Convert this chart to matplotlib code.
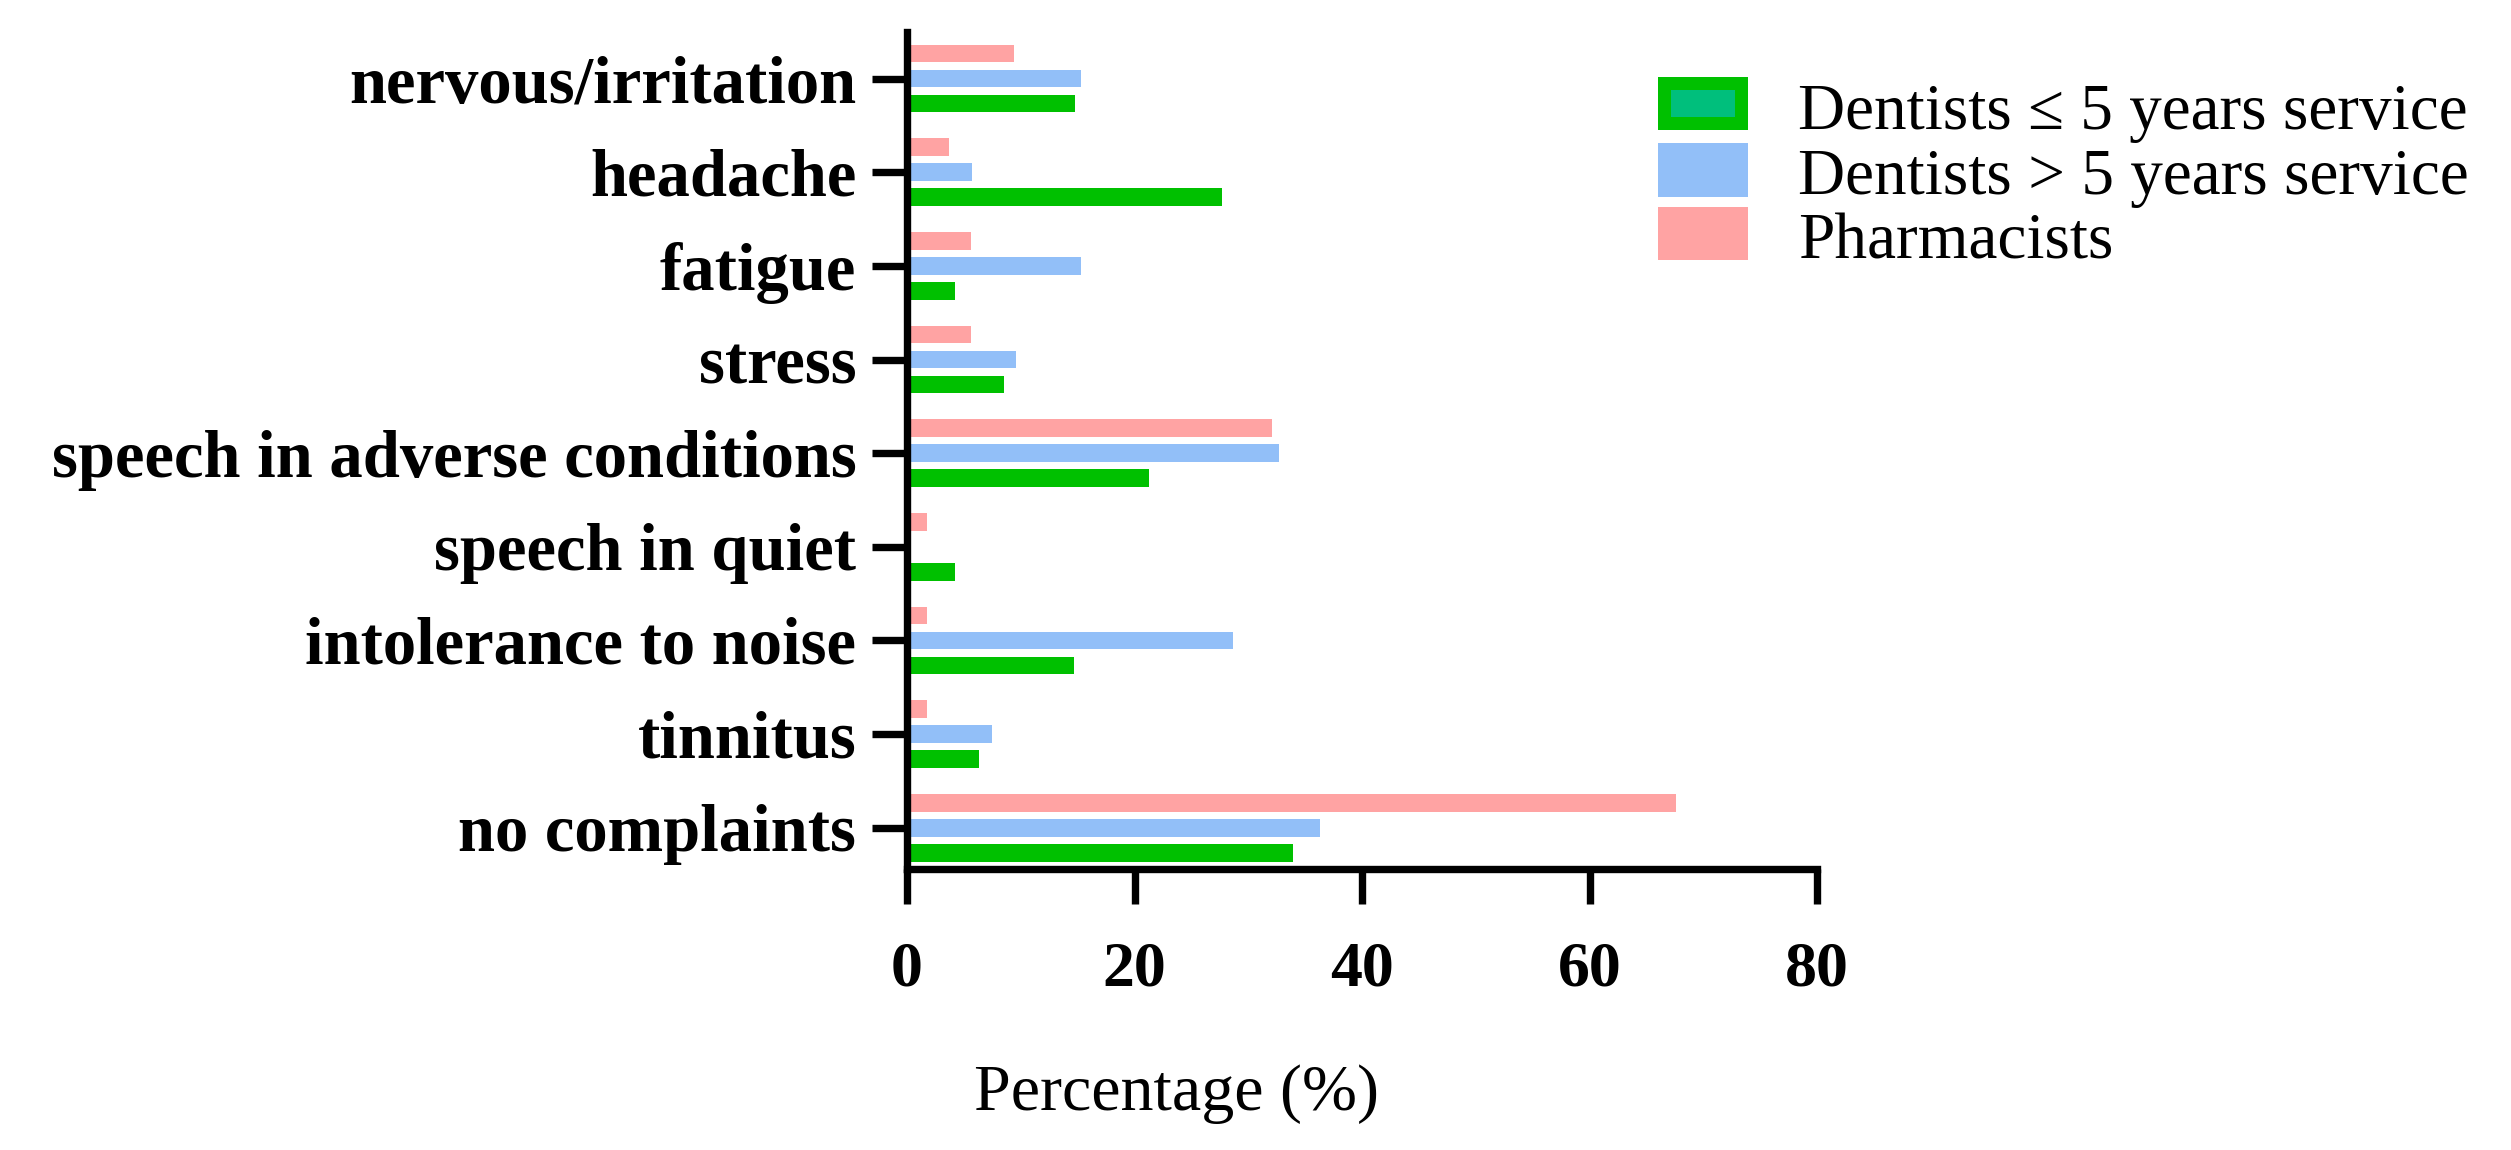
import matplotlib
matplotlib.use("Agg")
import matplotlib.pyplot as plt
from matplotlib.patches import Rectangle
import numpy as np

categories = ["nervous/irritation", "headache", "fatigue", "stress",
              "speech in adverse conditions", "speech in quiet",
              "intolerance to noise", "tinnitus", "no complaints"]
series_names = ["Dentists \u2264 5 years service", "Dentists > 5 years service", "Pharmacists"]
dent_le5 = [14.8, 27.7, 4.2, 8.5, 21.3, 4.2, 14.7, 6.3, 33.9]
dent_gt5 = [15.3, 5.7, 15.3, 9.6, 32.7, 0.0, 28.7, 7.5, 36.3]
pharm = [9.4, 3.7, 5.6, 5.6, 32.1, 1.8, 1.8, 1.8, 67.6]
xticks = [0, 20, 40, 60, 80]

col_green = "#00C000"
col_teal = "#00BF7C"
col_blue = "#92BFF8"
col_pink = "#FFA3A3"

W, H = 2511, 1150
fig = plt.figure(figsize=(W / 100, H / 100), dpi=100)
ax_l, ax_r, ax_t, ax_b = 907, 1817, 31.7, 869
ax = fig.add_axes([ax_l / W, 1 - ax_b / H, (ax_r - ax_l) / W, (ax_b - ax_t) / H])

y = np.arange(len(categories))
off = 0.267
bh = 0.189
ax.barh(y - off, pharm, height=bh, color=col_pink, linewidth=0)
ax.barh(y, dent_gt5, height=bh, color=col_blue, linewidth=0)
ax.barh(y + off, dent_le5, height=bh, color=col_green, linewidth=0)

ax.set_xlim(0, 80)
ax.set_ylim(8.44, -0.5)
ax.set_xticks(xticks)
ax.set_xticklabels([str(t) for t in xticks])
ax.set_yticks(y)
ax.set_yticklabels(categories)

for s in ["top", "right"]:
    ax.spines[s].set_visible(False)
for s in ["left", "bottom"]:
    ax.spines[s].set_linewidth(5.3)
    ax.spines[s].set_color("black")

ax.tick_params(axis="both", which="major", length=25.5, width=5.3, color="black", direction="out")
ax.tick_params(axis="y", pad=11)
ax.tick_params(axis="x", pad=27)
for lab in ax.get_yticklabels():
    lab.set_fontfamily("Liberation Serif")
    lab.set_fontweight("bold")
    lab.set_fontsize(48)
for lab in ax.get_xticklabels():
    lab.set_fontfamily("Liberation Serif")
    lab.set_fontweight("bold")
    lab.set_fontsize(46)

fig.text(1176 / W, 1 - 1110 / H, "Percentage (%)", ha="center", va="baseline",
         fontfamily="Liberation Serif", fontsize=47.5)

# legend (manual)
lw_px = 13
px_w, px_h = 90, 53
patch_left = 1657.7
patch_tops = [76.7, 143.0, 206.7]
baselines = [129.3, 194.0, 258.7]
faces = [col_teal, col_blue, col_pink]
edges = [col_green, col_blue, col_pink]
for name, top, base, fc, ec in zip(series_names, patch_tops, baselines, faces, edges):
    x0 = patch_left + lw_px / 2
    y0 = top + lw_px / 2
    w = px_w - lw_px
    h = px_h - lw_px
    rect = Rectangle((x0 / W, 1 - (y0 + h) / H), w / W, h / H, transform=fig.transFigure,
                     facecolor=fc, edgecolor=ec, linewidth=lw_px * 72 / 100, joinstyle="miter")
    fig.add_artist(rect)
    fig.text(1798 / W, 1 - base / H, name, ha="left", va="baseline",
             fontfamily=["Liberation Serif", "DejaVu Serif"], fontsize=47)

fig.savefig("out.png", dpi=100)
